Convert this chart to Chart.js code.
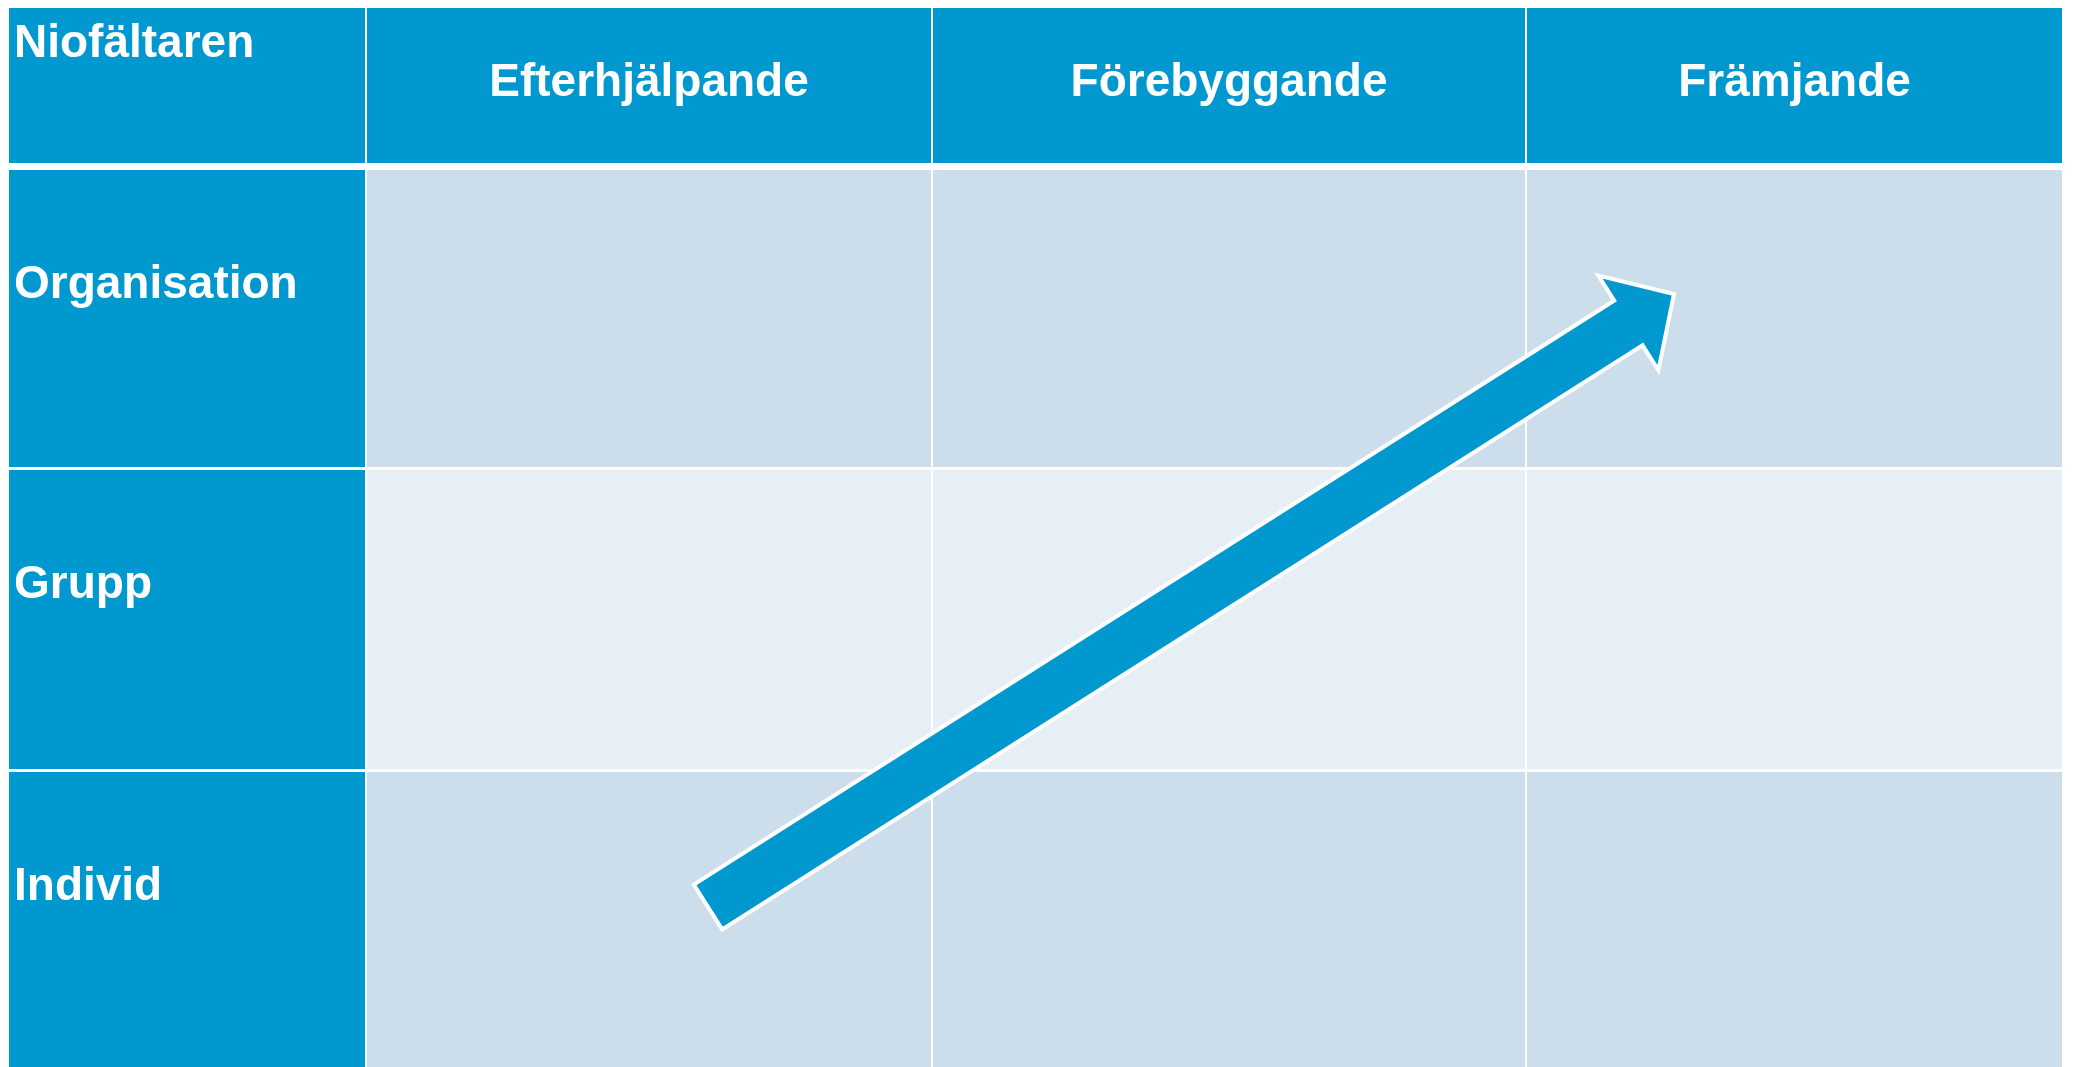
<!DOCTYPE html>
<html>
<head>
<meta charset="utf-8">
<script src="https://cdn.jsdelivr.net/npm/chart.js@4/dist/chart.umd.min.js"></script>
<style>
  html, body { margin:0; padding:0; background:#fff; }
  #wrap { width:2073px; height:1067px; }
</style>
</head>
<body>
<div id="wrap"><canvas id="grid" width="2073" height="1067"></canvas></div>
<script>
// Labels of the nine-field grid
const cornerLabel = "Niofältaren";
const columnLabels = ["Efterhjälpande", "Förebyggande", "Främjande"];
const rowLabels = ["Organisation", "Grupp", "Individ"];
// 1 = darker band, 0 = lighter band
const rowBand = [1, 0, 1];
// Arrow from Individ/Efterhjälpande up to Organisation/Främjande (scale units)
const arrowFrom = [708, 907];
const arrowTo = [1674, 294];

// Layout (scale units = px of the 2073x1067 canvas)
const colSpans = [[9, 365], [367, 931], [933, 1525], [1527, 2062]];
const rowSpans = [[8, 163], [170, 467], [470, 769], [772, 1067]];
const BLUE = "#0098ce";
const BAND = ["#e6eef6", "#ccddeb"];
const FONT = "bold 46px 'Liberation Sans', Arial, sans-serif";

function arrowPolygon() {
    const dx = arrowTo[0]-arrowFrom[0], dy = arrowTo[1]-arrowFrom[1];
    const len = Math.sqrt(dx*dx+dy*dy);
    const ux = dx/len, uy = dy/len;
    const nx = -uy, ny = ux;
    const shaft = 26.5, head = 56, headLen = 54;
    const p = (a, s) => ({x: arrowFrom[0]+ux*a+nx*s, y: arrowFrom[1]+uy*a+ny*s});
    const b = len-headLen;
    return [p(0,0), p(0,shaft), p(b,shaft), p(b,head), p(len,0), p(b,-head), p(b,-shaft), p(0,-shaft), p(0,0)];
}

const gridPlugin = {
    id: "gridCells",
    beforeDatasetsDraw(chart) {
        const {ctx, scales:{x, y}} = chart;
        ctx.save();
        rowSpans.forEach((rs, r) => {
            colSpans.forEach((cs, c) => {
                let color = BLUE;
                if (r > 0 && c > 0) color = BAND[rowBand[r-1]];
                const x0 = x.getPixelForValue(cs[0]), x1 = x.getPixelForValue(cs[1]);
                const y0 = y.getPixelForValue(rs[0]), y1 = y.getPixelForValue(rs[1]);
                ctx.fillStyle = color;
                ctx.fillRect(x0, y0, x1-x0, y1-y0);
            });
        });
        ctx.restore();
    },
    afterDraw(chart) {
        const {ctx, scales:{x, y}} = chart;
        ctx.save();
        ctx.fillStyle = "#fff";
        ctx.font = FONT;
        ctx.textBaseline = "alphabetic";
        ctx.textAlign = "left";
        ctx.fillText(cornerLabel, x.getPixelForValue(colSpans[0][0]+5), y.getPixelForValue(rowSpans[0][0]+49));
        ctx.textAlign = "center";
        columnLabels.forEach((lab, i) => {
            const cs = colSpans[i+1];
            ctx.fillText(lab, x.getPixelForValue((cs[0]+cs[1])/2), y.getPixelForValue(rowSpans[0][0]+88));
        });
        ctx.textAlign = "left";
        rowLabels.forEach((lab, i) => {
            const rs = rowSpans[i+1];
            ctx.fillText(lab, x.getPixelForValue(colSpans[0][0]+5), y.getPixelForValue(rs[0]+128));
        });
        ctx.restore();
    }
};

const chart = new Chart(document.getElementById("grid").getContext("2d"), {
    type: "scatter",
    data: {
        datasets: [{
            data: arrowPolygon(),
            showLine: true,
            fill: "shape",
            backgroundColor: BLUE,
            borderColor: "#fff",
            borderWidth: 4,
            borderJoinStyle: "miter",
            pointRadius: 0,
            tension: 0
        }]
    },
    options: {
        responsive: false,
        animation: false,
        events: [],
        layout: {padding: 0},
        plugins: {legend: {display: false}, tooltip: {enabled: false}},
        scales: {
            x: {type: "linear", display: false, min: 0, max: 2073},
            y: {type: "linear", display: false, min: 0, max: 1067, reverse: true}
        }
    },
    plugins: [gridPlugin]
});
</script>
</body>
</html>
